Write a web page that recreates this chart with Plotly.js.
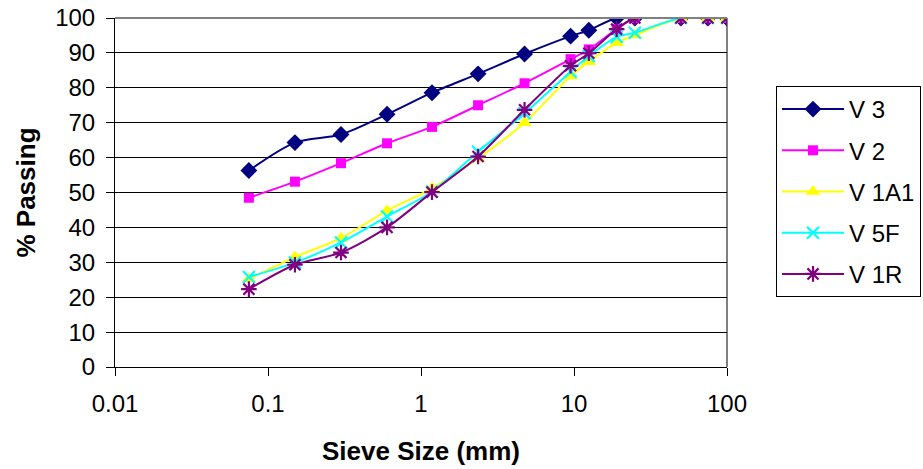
<!DOCTYPE html>
<html>
<head>
<meta charset="utf-8">
<script src="https://cdn.plot.ly/plotly-3.0.1.min.js"></script>
<style>html,body{margin:0;padding:0;background:#fff;}#chart{width:923px;height:469px;}</style>
</head>
<body>
<div id="chart"></div>
<script>
// Sieve sizes (mm)
var sieveSizes = [0.075, 0.15, 0.3, 0.6, 1.18, 2.36, 4.75, 9.5, 12.5, 19, 25, 50, 75, 100];
// % passing per sample
var v3   = [56.3, 64.3, 66.6, 72.4, 78.6, 84.0, 89.7, 94.8, 96.5, 100, 100, 100, 100, 100];
var v2   = [48.5, 53.1, 58.4, 64.1, 68.8, 75.0, 81.3, 88.2, 91.0, 96.8, 100, 100, 100, 100];
var v1a1 = [25.2, 31.5, 36.9, 44.8, 51.2, 59.8, 70.0, 83.4, 87.5, 92.9, 95.1, 100, 100, 100];
var v5f  = [25.8, 29.9, 35.7, 43.1, 50.3, 61.7, 72.7, 84.6, 89.1, 94.6, 95.8, 100, 100, 100];
var v1r  = [22.3, 29.3, 32.8, 40.0, 50.1, 60.3, 73.7, 86.3, 89.9, 96.8, 100, 100, 100, 100];

var seriesNames = ["V 3", "V 2", "V 1A1", "V 5F", "V 1R"];
var xTickVals = [0.01, 0.1, 1, 10, 100];
var xTickText = ["0.01", "0.1", "1", "10", "100"];
var yTickVals = [0, 10, 20, 30, 40, 50, 60, 70, 80, 90, 100];

var FONT = "Liberation Sans, Arial, sans-serif";

function mk(name, y, color, symbol, size, lineWidthMarker, openMarker) {
  var marker = {symbol: symbol, size: size, color: color};
  if (openMarker) marker.line = {color: color, width: lineWidthMarker};
  return {
    x: sieveSizes, y: y, name: name, legendgroup: name,
    type: "scatter", mode: "lines+markers",
    line: {color: color, width: 2, shape: "spline", smoothing: 0.8},
    marker: marker
  };
}

var data = [
  mk(seriesNames[0], v3,   "#000080", "diamond", 13),
  mk(seriesNames[1], v2,   "#FF00FF", "square", 10),
  mk(seriesNames[2], v1a1, "#FFFF00", "triangle-up", 13),
  mk(seriesNames[3], v5f,  "#00FFFF", "x-thin-open", 12, 2.2, true),
  mk(seriesNames[4], v1r,  "#800080", "asterisk-open", 13, 2.2, true)
];

var layout = {
  width: 923, height: 469,
  margin: {l: 115, r: 196, t: 18, b: 102, pad: 0},
  paper_bgcolor: "#fff", plot_bgcolor: "#fff",
  font: {family: FONT, size: 24, color: "#000"},
  showlegend: true,
  legend: {
    xref: "container", yref: "container",
    x: 776/923, y: 1 - 86/469, xanchor: "left", yanchor: "top",
    bgcolor: "#fff", bordercolor: "#000", borderwidth: 1,
    font: {family: FONT, size: 24, color: "#000"},
    itemwidth: 62, tracegroupgap: 7, traceorder: "grouped"
  },
  xaxis: {
    type: "log", range: [-2, 2],
    tickvals: xTickVals, ticktext: xTickText,
    showgrid: false, zeroline: false,
    showline: true, linecolor: "#000", linewidth: 1,
    ticks: "outside", ticklen: 8, tickcolor: "#000", tickwidth: 1,
    tickfont: {family: FONT, size: 24, color: "#000"},
    ticklabelstandoff: 7,
    title: {text: "Sieve Size (mm)", font: {family: FONT, size: 26, color: "#000", weight: "bold"}, standoff: 26}
  },
  yaxis: {
    range: [0, 100], tickvals: yTickVals,
    showgrid: true, gridcolor: "#000", gridwidth: 1,
    zeroline: false,
    showline: true, linecolor: "#000", linewidth: 1,
    ticks: "outside", ticklen: 8, tickcolor: "#000", tickwidth: 1,
    tickfont: {family: FONT, size: 24, color: "#000"},
    ticklabelstandoff: 6,
    title: {text: "% Passing", font: {family: FONT, size: 26, color: "#000", weight: "bold"}, standoff: 12}
  },
  shapes: [
    {type: "line", xref: "paper", yref: "paper", x0: 0, x1: 1, y0: 1, y1: 1, line: {color: "#808080", width: 2}, layer: "above"},
    {type: "line", xref: "paper", yref: "paper", x0: 1, x1: 1, y0: 0, y1: 1, line: {color: "#808080", width: 2}, layer: "below"}
  ]
};

Plotly.newPlot("chart", data, layout, {displayModeBar: false, staticPlot: true});
</script>
</body>
</html>
